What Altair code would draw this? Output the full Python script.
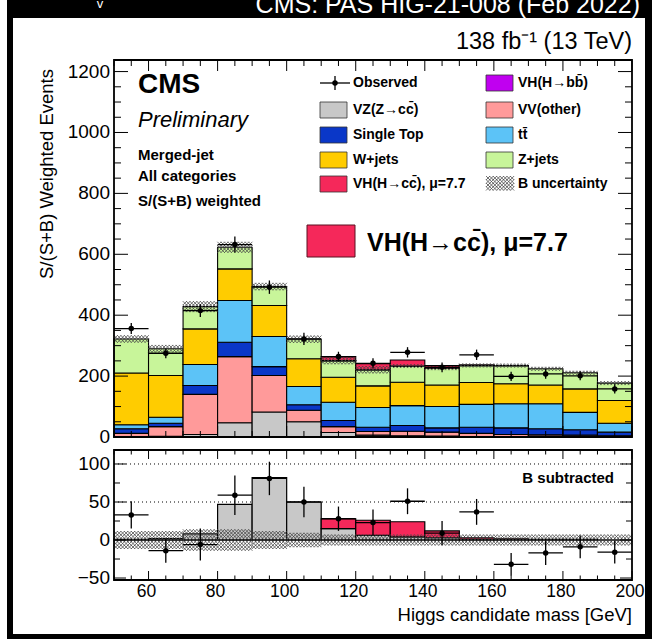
import altair as alt
import numpy as np
import pandas as pd

FONT = "Liberation Sans"

# Higgs candidate mass bins [GeV]
bin_lo = list(range(50, 200, 10))
bin_hi = [b + 10 for b in bin_lo]

# S/(S+B) weighted yields per process, stacked bottom -> top
vz    = [1, 2, 8, 47, 82, 50, 15, 6, 4, 3, 1, 1, 1, 1, 0]
vv    = [11, 32, 132, 217, 120, 38, 19, 12, 15, 13, 11, 7, 6, 5, 4]
stop  = [15, 11, 29, 47, 29, 18, 20, 14, 19, 14, 20, 22, 20, 18, 12]
ttbar = [13, 20, 69, 137, 99, 60, 60, 65, 65, 70, 75, 79, 82, 57, 29]
wjets = [170, 137, 117, 104, 102, 91, 82, 71, 77, 71, 72, 66, 62, 77, 75]
zjets = [112, 88, 73, 71, 62, 64, 54, 52, 52, 54, 55, 59, 53, 53, 57]
vhbb  = [0, 0, 0, 0, 0, 0, 1, 1, 1, 1, 1, 0.5, 0, 0, 0]
vhcc  = [0, 0, 0, 0, 0, 0, 13, 20, 20, 9, 2, 0.5, 0, 0, 0]

# observed data, its uncertainty, background-subtracted data, B uncertainty
obs     = [356, 275, 415, 632, 492, 322, 264, 242, 278, 229, 270, 199, 207, 201, 158]
obs_err = [18, 16, 21, 26, 22, 20, 16, 17, 17, 16, 17, 15, 16, 15, 15]
obs_sub = [33, -14, -6, 59, 81, 50, 28, 23, 51, 9, 37, -32, -17, -9, -16]
b_unc   = [11, 10, 12, 12, 11, 8, 6, 6, 5, 5, 5, 5, 5, 5, 5]

names = ["VZ(Z→cc\u0304)", "VV(other)", "Single Top", "tt\u0304", "W+jets",
         "Z+jets", "VH(H→bb\u0304)", "VH(H→cc\u0304), μ=7.7"]
colors = ["#c8c8c8", "#ff9a9a", "#0a37c8", "#5cc3f7", "#ffcc00",
          "#c8f59a", "#c000f0", "#f5285a"]
series = [vz, vv, stop, ttbar, wjets, zjets, vhbb, vhcc]

x_major = [60, 80, 100, 120, 140, 160, 180, 200]
x_minor = [v for v in range(50, 201, 5) if v not in x_major]
yt_major = [0, 200, 400, 600, 800, 1000, 1200]
yt_minor = [v for v in range(0, 1238, 50) if v not in yt_major]
yb_major = [-50, 0, 50, 100]
yb_minor = [-25, 25, 75]
yb_labels = ["\u221250", "0", "50", "100"]

W, H = 518, 520          # full plotting region (both pads)
TOP_H = 377              # upper pad: 0 .. 377
LOW_T, LOW_B = 390, 520  # lower pad

xs = alt.Scale(domain=[50, 200], range=[0, W], nice=False, zero=False)
yt = alt.Scale(domain=[0, 1238], range=[TOP_H, 0], nice=False, zero=False)
yb = alt.Scale(domain=[-52.6, 118.4], range=[LOW_B, LOW_T], nice=False, zero=False)
color_scale = alt.Scale(domain=names, range=colors)

def X(f):
    return alt.X(f, type="quantitative", scale=xs, axis=None)

def YT(f):
    return alt.Y(f, type="quantitative", scale=yt, axis=None)

def YB(f):
    return alt.Y(f, type="quantitative", scale=yb, axis=None)

def PX(f):
    return alt.X(f, type="quantitative", scale=None, axis=None)

def PY(f):
    return alt.Y(f, type="quantitative", scale=None, axis=None)

one = pd.DataFrame({"a": [0]})
layers = []

# page frame
layers.append(alt.Chart(one).mark_rect(color="black").encode(
    x=alt.value(-107), x2=alt.value(538), y=alt.value(-60), y2=alt.value(579)))
layers.append(alt.Chart(one).mark_rect(color="white").encode(
    x=alt.value(-101), x2=alt.value(531), y=alt.value(-42), y2=alt.value(574)))
layers.append(alt.Chart(one).mark_text(align="right", baseline="alphabetic", fontSize=25,
                                       font=FONT, color="white").encode(
    x=alt.value(526), y=alt.value(-47), text=alt.value("CMS: PAS HIG-21-008 (Feb 2022)")))
layers.append(alt.Chart(one).mark_text(align="center", baseline="alphabetic", fontSize=13,
                                       font=FONT, color="white").encode(
    x=alt.value(-14), y=alt.value(-52), text=alt.value("v")))

# ---- upper pad: stacked histogram
rows, hatch_c = [], []
for i in range(len(bin_lo)):
    base = 0.0
    for name, arr in zip(names, series):
        v = arr[i]
        if name == names[-1]:
            hatch_c.append(base)
        if v > 0:
            rows.append(dict(lo=bin_lo[i], hi=bin_hi[i], y0=base, y1=base + v, comp=name))
        base += v
stack_df = pd.DataFrame(rows)
layers.append(alt.Chart(stack_df).mark_rect(stroke="black", strokeWidth=1.1).encode(
    x=X("lo"), x2="hi", y=YT("y0"), y2="y1",
    fill=alt.Fill("comp:N", scale=color_scale, legend=None)))

XMARK = "M-1,-1L1,1M-1,1L1,-1"

def hatch_points(centers, step):
    pts = []
    for i in range(len(bin_lo)):
        u = b_unc[i]
        k = int((2 * u) // step)
        offs = [-k * step / 2 + j * step for j in range(k + 1)]
        for j in range(10):
            for o in offs:
                pts.append(dict(x=bin_lo[i] + 0.5 + j, y=centers[i] + o))
    return pd.DataFrame(pts)

def hatch_layer(df, yenc):
    return alt.Chart(df).mark_point(shape=XMARK, size=16, filled=False, stroke="#444",
                                    strokeWidth=0.75, opacity=1).encode(x=X("x"), y=yenc("y"))

layers.append(hatch_layer(hatch_points(hatch_c, 11.5), YT))

obs_df = pd.DataFrame(dict(lo=bin_lo, hi=bin_hi, c=[b + 5 for b in bin_lo],
                           obs=obs, err=obs_err, sub=obs_sub))
obs_df["t_lo"] = obs_df["obs"] - obs_df["err"]
obs_df["t_hi"] = obs_df["obs"] + obs_df["err"]
obs_df["b_lo"] = obs_df["sub"] - obs_df["err"]
obs_df["b_hi"] = obs_df["sub"] + obs_df["err"]

def observed(yenc, val, lo, hi):
    base = alt.Chart(obs_df)
    return [
        base.mark_rule(color="black", strokeWidth=1.3).encode(x=X("c"), y=yenc(lo), y2=hi),
        base.mark_rule(color="black", strokeWidth=1.3).encode(x=X("lo"), x2="hi", y=yenc(val)),
        base.mark_circle(color="black", size=30, opacity=1).encode(x=X("c"), y=yenc(val)),
    ]

layers += observed(YT, "obs", "t_lo", "t_hi")

# ---- lower pad: background subtracted
layers.append(alt.Chart(pd.DataFrame({"v": [50, 100]})).mark_rule(
    color="black", strokeWidth=1, strokeDash=[1, 3]).encode(
    y=YB("v"), x=alt.value(0), x2=alt.value(W)))

low_rows = []
for i in range(len(bin_lo)):
    if vz[i] > 0:
        low_rows.append(dict(lo=bin_lo[i], hi=bin_hi[i], y0=0, y1=vz[i], comp=names[0]))
    if vhcc[i] > 0:
        low_rows.append(dict(lo=bin_lo[i], hi=bin_hi[i], y0=vz[i], y1=vz[i] + vhcc[i],
                             comp=names[-1]))
layers.append(alt.Chart(pd.DataFrame(low_rows)).mark_rect(stroke="black", strokeWidth=1.2).encode(
    x=X("lo"), x2="hi", y=YB("y0"), y2="y1",
    fill=alt.Fill("comp:N", scale=color_scale, legend=None)))
layers.append(alt.Chart(pd.DataFrame({"v": [0]})).mark_rule(color="black", strokeWidth=1.6).encode(
    y=YB("v"), x=alt.value(0), x2=alt.value(W)))
layers.append(hatch_layer(hatch_points([0] * len(bin_lo), 4.6), YB))
layers += observed(YB, "sub", "b_lo", "b_hi")

# ---- inward ticks on all four sides of both pads
def xticks(vals, a, b):
    return alt.Chart(pd.DataFrame({"v": vals})).mark_rule(color="black", strokeWidth=1).encode(
        x=X("v"), y=alt.value(a), y2=alt.value(b))

def yticks(vals, yenc, a, b):
    return alt.Chart(pd.DataFrame({"v": vals})).mark_rule(color="black", strokeWidth=1).encode(
        y=yenc("v"), x=alt.value(a), x2=alt.value(b))

layers += [
    xticks(x_major, 0, 11), xticks(x_minor, 0, 6),
    xticks(x_major, TOP_H - 11, TOP_H), xticks(x_minor, TOP_H - 6, TOP_H),
    xticks(x_major, LOW_T, LOW_T + 9), xticks(x_minor, LOW_T, LOW_T + 4.5),
    xticks(x_major, LOW_B - 9, LOW_B), xticks(x_minor, LOW_B - 4.5, LOW_B),
    yticks(yt_major, YT, 0, 14), yticks(yt_minor, YT, 0, 7),
    yticks(yt_major, YT, W - 14, W), yticks(yt_minor, YT, W - 7, W),
    yticks(yb_major, YB, 0, 12), yticks(yb_minor, YB, 0, 6),
    yticks(yb_major, YB, W - 12, W), yticks(yb_minor, YB, W - 6, W),
]

# pad frames
for a, b in [(0, TOP_H), (LOW_T, LOW_B)]:
    layers.append(alt.Chart(one).mark_rect(fill="white", fillOpacity=0, stroke="black",
                                           strokeWidth=1.8).encode(
        x=alt.value(0), x2=alt.value(W), y=alt.value(a), y2=alt.value(b)))

# ---- axis labels and titles
layers.append(alt.Chart(pd.DataFrame({"v": yt_major})).mark_text(
    align="right", baseline="middle", fontSize=19, font=FONT, color="black").encode(
    y=YT("v"), x=alt.value(-4), text="v:Q"))
layers.append(alt.Chart(pd.DataFrame({"v": yb_major, "t": yb_labels})).mark_text(
    align="right", baseline="middle", fontSize=19, font=FONT, color="black").encode(
    y=YB("v"), x=alt.value(-4), text="t:N"))
layers.append(alt.Chart(pd.DataFrame({"v": x_major})).mark_text(
    align="center", baseline="top", fontSize=17.5, font=FONT, color="black", dx=-2).encode(
    x=X("v"), y=alt.value(LOW_B + 3), text="v:Q"))
layers.append(alt.Chart(one).mark_text(align="right", baseline="alphabetic", fontSize=18.5,
                                       font=FONT, color="black").encode(
    x=alt.value(W), y=alt.value(561), text=alt.value("Higgs candidate mass [GeV]")))
layers.append(alt.Chart(one).mark_text(align="center", baseline="middle", fontSize=18.5,
                                       font=FONT, color="black", angle=270).encode(
    x=alt.value(-67), y=alt.value(114), text=alt.value("S/(S+B) Weighted Events")))
layers.append(alt.Chart(one).mark_text(align="right", baseline="alphabetic", fontSize=23.5,
                                       font=FONT, color="black").encode(
    x=alt.value(W), y=alt.value(-11), text=alt.value("138 fb\u207b\u00b9 (13 TeV)")))

# CMS labels
def label(txt, x, y, size, weight="normal", style="normal", align="left"):
    return alt.Chart(one).mark_text(align=align, baseline="alphabetic", fontSize=size,
                                    font=FONT, fontWeight=weight, fontStyle=style,
                                    color="black").encode(
        x=alt.value(x), y=alt.value(y), text=alt.value(txt))

layers += [
    label("CMS", 24, 33, 28, weight="bold"),
    label("Preliminary", 24, 67, 22, style="italic"),
    label("Merged-jet", 24, 100, 15, weight="bold"),
    label("All categories", 24, 121, 15, weight="bold"),
    label("S/(S+B) weighted", 24, 146, 15, weight="bold"),
    label("B subtracted", 500, 423, 15, weight="bold", align="right"),
    label("VH(H→cc\u0304), μ=7.7", 253, 191, 25, weight="bold"),
]
layers.append(alt.Chart(one).mark_rect(color=colors[-1], stroke="#5a1020", strokeWidth=1).encode(
    x=alt.value(193), x2=alt.value(241), y=alt.value(165), y2=alt.value(197)))

# ---- legend
row_y = [23, 50, 75, 100, 124]
col_box = [206, 372]
col_txt = [239, 404]
leg = [
    (0, 1, names[0]), (0, 2, names[2]), (0, 3, names[4]), (0, 4, names[7]),
    (1, 0, names[6]), (1, 1, names[1]), (1, 2, names[3]), (1, 3, names[5]),
]
leg_df = pd.DataFrame([dict(x0=col_box[c], x1=col_box[c] + 27, y0=row_y[r] - 8,
                            y1=row_y[r] + 8, comp=n) for c, r, n in leg])
layers.append(alt.Chart(leg_df).mark_rect(stroke="#333", strokeWidth=0.8).encode(
    x=PX("x0"), x2="x1", y=PY("y0"), y2="y1",
    fill=alt.Fill("comp:N", scale=color_scale, legend=None)))

txt_df = pd.DataFrame([dict(x=col_txt[c], y=row_y[r], t=n) for c, r, n in leg] +
                      [dict(x=col_txt[0], y=row_y[0], t="Observed"),
                       dict(x=col_txt[1], y=row_y[4], t="B uncertainty")])
layers.append(alt.Chart(txt_df).mark_text(align="left", baseline="middle", fontSize=14,
                                          font=FONT, fontWeight="bold", color="black").encode(
    x=PX("x"), y=PY("y"), text="t:N"))

# observed legend marker
layers.append(alt.Chart(one).mark_rule(color="black", strokeWidth=1.3).encode(
    x=alt.value(206), x2=alt.value(236), y=alt.value(row_y[0])))
layers.append(alt.Chart(one).mark_rule(color="black", strokeWidth=1.3).encode(
    x=alt.value(221), y=alt.value(row_y[0] - 7), y2=alt.value(row_y[0] + 7)))
layers.append(alt.Chart(one).mark_circle(color="black", size=30, opacity=1).encode(
    x=alt.value(221), y=alt.value(row_y[0])))

# B uncertainty legend swatch
hx = np.arange(col_box[1] + 2, col_box[1] + 27, 3.45)
hy = np.arange(row_y[4] - 6, row_y[4] + 7, 3.5)
sw_df = pd.DataFrame([dict(x=a, y=b) for a in hx for b in hy])
layers.append(alt.Chart(sw_df).mark_point(shape=XMARK, size=16, filled=False, stroke="#444",
                                          strokeWidth=0.75, opacity=1).encode(
    x=PX("x"), y=PY("y")))

chart = alt.layer(*layers).resolve_scale(x="independent", y="independent").properties(
    width=W, height=H,
    autosize=alt.AutoSizeParams(type="none"),
    padding={"left": 114, "top": 60, "right": 20, "bottom": 59},
    background="white",
).configure_view(stroke="transparent")

chart.save("out.html", embed_options={"renderer": "svg", "actions": False})
